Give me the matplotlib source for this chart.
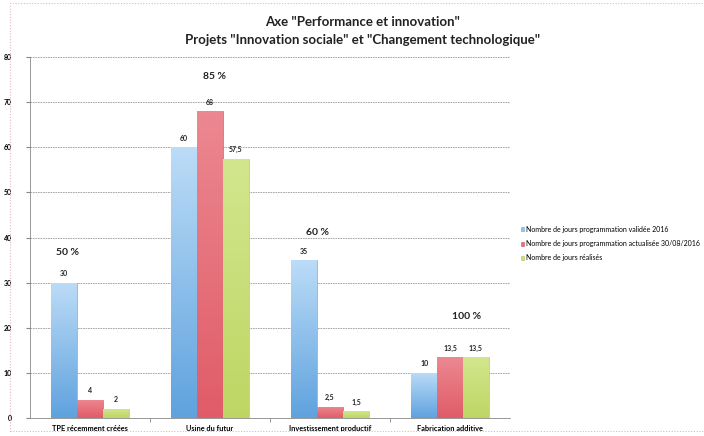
import matplotlib
matplotlib.use("Agg")
import matplotlib.pyplot as plt
import matplotlib.patches as mpatches
from matplotlib.colors import LinearSegmentedColormap
import numpy as np

categories = ["TPE récemment créées", "Usine du futur", "Investissement productif", "Fabrication additive"]
series_names = ["Nombre de jours programmation validée 2016",
                "Nombre de jours programmation actualisée 30/08/2016",
                "Nombre de jours réalisés"]
validee = [30, 60, 35, 10]
actualisee = [4, 68, 2.5, 13.5]
realises = [2, 57.5, 1.5, 13.5]
pct_labels = ["50 %", "85 %", "60 %", "100 %"]
pct_x = [-0.19, 1.04, 1.90, 3.14]
pct_y = [36.6, 75.6, 41.0, 22.4]
yticks = [0, 10, 20, 30, 40, 50, 60, 70, 80]

colors = ["#8fc2ec", "#e4707a", "#c8de78"]
grad_top = ["#bcdcf7", "#ec8891", "#d3e68e"]
grad_bot = ["#5fa2de", "#e05c68", "#bdd663"]
edge = ["#6aa6dc", "#d24f5b", "#aac85a"]

plt.rcParams['font.family'] = ['Lato', 'DejaVu Sans']

fig = plt.figure(figsize=(7.04, 4.36), dpi=100)
ax = fig.add_axes([30/704, 18/436, 480/704, 361/436])

# outer border
fig.patches.append(mpatches.Rectangle((10/704, 5/436), 700/704, 428/436,
                                      transform=fig.transFigure, fill=False,
                                      edgecolor="#e0b8c0", linestyle=(0, (1, 1.5)),
                                      linewidth=0.8))

x = np.arange(len(categories))
w = 0.216
def fmt(v):
    return ("%g" % v).replace(".", ",")

grad = np.linspace(1, 0, 256).reshape(-1, 1)
for i, (vals, c, ec) in enumerate(zip([validee, actualisee, realises], colors, edge)):
    xs = x + (i - 1) * w
    bars = ax.bar(xs, vals, width=w, color=c, edgecolor=ec, linewidth=0.4,
                  label=series_names[i], zorder=3)
    cmap = LinearSegmentedColormap.from_list("g%d" % i, [grad_bot[i], grad_top[i]])
    for b in bars:
        bx, by = b.get_x(), b.get_y()
        bw, bh = b.get_width(), b.get_height()
        im = ax.imshow(grad, cmap=cmap, vmin=0, vmax=1, aspect="auto",
                       extent=[bx, bx + bw, by, by + bh], zorder=3.5)
        im.set_clip_path(b)
    for xi, v in zip(xs, vals):
        ax.annotate(fmt(v), (xi, v), xytext=(0, 6.5), textcoords="offset points",
                    ha="center", va="center", fontsize=5, fontweight="bold", color="#222222")

for t, px, py in zip(pct_labels, pct_x, pct_y):
    ax.text(px, py, t, ha="center", va="center", fontsize=7.5, fontweight="bold", color="#222222")

ax.set_xlim(-0.5, 3.5)
ax.set_ylim(0, 80)
ax.set_yticks(yticks)
ax.set_yticklabels([str(v) for v in yticks], fontsize=5, fontweight="bold")
ax.set_xticks(x)
ax.set_xticklabels(categories, fontsize=5.3, fontweight="bold")
ax.set_xticks([0.5, 1.5, 2.5], minor=True)
ax.tick_params(axis="x", which="major", length=0, pad=5)
ax.tick_params(axis="x", which="minor", length=3, color="#888888")
ax.tick_params(axis="y", length=3, color="#888888", pad=10)
ax.yaxis.grid(True, linestyle=(0, (2, 1)), color="#999999", linewidth=0.6, zorder=0)
for s in ["top", "right"]:
    ax.spines[s].set_visible(False)
ax.spines["left"].set_color("#888888")
ax.spines["bottom"].set_color("#888888")
ax.spines["left"].set_linewidth(0.6)
ax.spines["bottom"].set_linewidth(0.6)

fig.legend(loc="upper left", bbox_to_anchor=(518/704, 1 - 223/436), frameon=False,
           fontsize=5, handlelength=0.5, handleheight=0.5, handletextpad=0.3,
           labelspacing=1.05, borderaxespad=0)

fig.text(363/704, 1 - 22/436, 'Axe "Performance et innovation"', ha="center", va="center",
         fontsize=9.5, fontweight="bold", color="#222222")
fig.text(363/704, 1 - 40/436, 'Projets "Innovation sociale" et "Changement technologique"',
         ha="center", va="center", fontsize=9.5, fontweight="bold", color="#222222")

fig.savefig("out.png", dpi=100)
